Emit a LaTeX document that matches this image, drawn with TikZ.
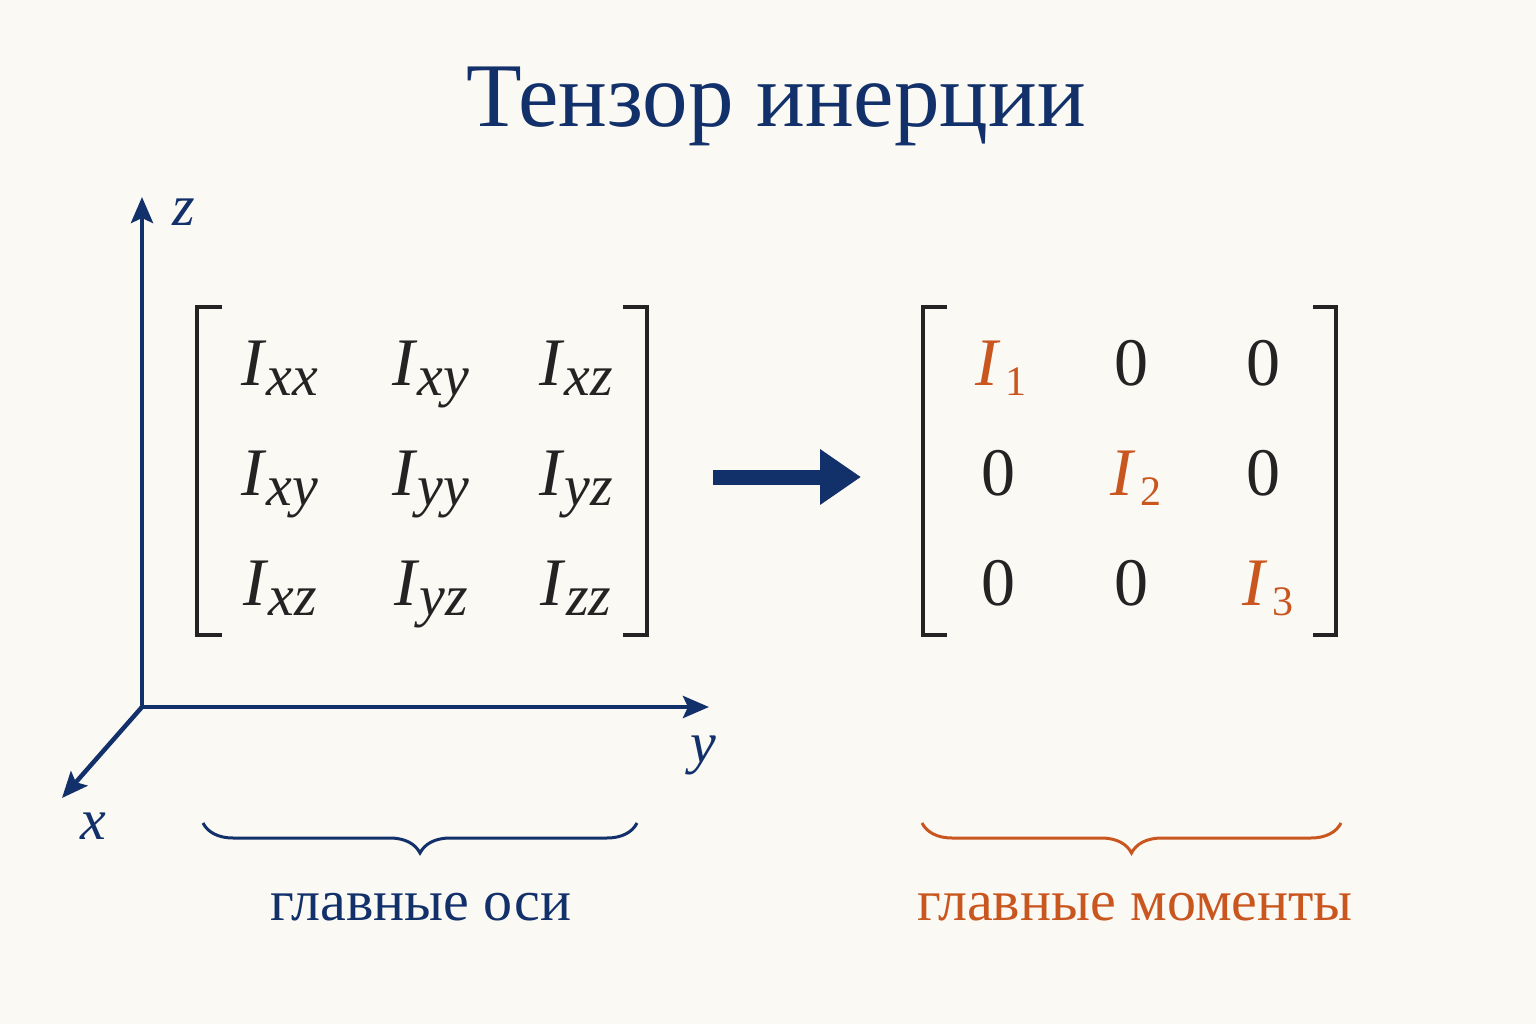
\documentclass[tikz,border=0pt]{standalone}
\usepackage{fontspec}
\setmainfont{Liberation Serif}
\usetikzlibrary{arrows.meta, positioning, decorations.pathreplacing}

\definecolor{navy}{HTML}{12306A}
\definecolor{rust}{HTML}{C9561F}
\definecolor{ink}{HTML}{232323}
\definecolor{paper}{HTML}{FBF9F4}

\newcommand{\Icomp}[1]{\textit{I}\raisebox{-10pt}{\fontsize{58}{58}\selectfont\textit{#1}}}
\newcommand{\Iprin}[1]{\textcolor{rust}{\textit{I}\kern4pt\raisebox{-10pt}{\fontsize{42}{42}\selectfont #1}}}

\begin{document}
\begin{tikzpicture}[x=1pt, y=-1pt,
    entry/.style={anchor=base, text=ink, inner sep=0pt, font=\fontsize{68}{68}\selectfont},
    axis/.style={navy, line width=4.5pt, -{Stealth[length=26pt,width=22pt,inset=5pt]}},
    axlabel/.style={navy, inner sep=0pt, font=\fontsize{58}{58}\selectfont\itshape},
    bracket/.style={ink, line width=4.5pt},
    curly/.style={decorate, decoration={brace, mirror, amplitude=30pt}, line width=3pt},
    caption/.style={anchor=base, inner sep=0pt, font=\fontsize{58}{58}\selectfont}]

  \fill[paper] (0,0) rectangle (1536,1024);
  \useasboundingbox (0,0) rectangle (1536,1024);

  \node[navy, anchor=base, font=\fontsize{91}{91}\selectfont] (title) at (776,127) {Тензор инерции};

  % axes
  \coordinate (O) at (142,707);
  \coordinate (Z) at (142,197);
  \coordinate (Y) at (709,707);
  \coordinate (X) at (62,798);
  \draw[axis] (O) -- (Z);
  \draw[axis] (O) -- (Y);
  \draw[axis] (O) -- (X);
  \node[axlabel] (zl) at (184,212) {z};
  \node[axlabel] (yl) at (703,755) {y};
  \node[axlabel] (xl) at (93,826) {x};

  % left matrix
  \draw[bracket] (222,307) -- (197,307) -- (197,635) -- (222,635);
  \draw[bracket] (623,307) -- (647,307) -- (647,635) -- (623,635);
  \node[entry] (a11) at (280,385) {\Icomp{xx}};
  \node[entry] (a12) at (431,385) {\Icomp{xy}};
  \node[entry] (a13) at (576,385) {\Icomp{xz}};
  \node[entry] (a21) at (280,495) {\Icomp{xy}};
  \node[entry] (a22) at (431,495) {\Icomp{yy}};
  \node[entry] (a23) at (576,495) {\Icomp{yz}};
  \node[entry] (a31) at (280,605) {\Icomp{xz}};
  \node[entry] (a32) at (431,605) {\Icomp{yz}};
  \node[entry] (a33) at (576,605) {\Icomp{zz}};

  % arrow
  \coordinate (aS) at (713,477);
  \coordinate (aE) at (861,477);
  \draw[navy, line width=15pt, -{Triangle[length=41pt,width=53pt]}] (aS) -- (aE);

  % right matrix
  \draw[bracket] (947,307) -- (923,307) -- (923,635) -- (947,635);
  \draw[bracket] (1313,307) -- (1336,307) -- (1336,635) -- (1313,635);
  \node[entry] (b11) at (1001,385) {\Iprin{1}};
  \node[entry] (b12) at (1131,385) {0};
  \node[entry] (b13) at (1263,385) {0};
  \node[entry] (b21) at (998,495) {0};
  \node[entry] (b22) at (1136,495) {\Iprin{2}};
  \node[entry] (b23) at (1263,495) {0};
  \node[entry] (b31) at (998,605) {0};
  \node[entry] (b32) at (1131,605) {0};
  \node[entry] (b33) at (1268,605) {\Iprin{3}};

  % braces
  \coordinate (lb1) at (203,823);
  \coordinate (lb2) at (637,823);
  \coordinate (rb1) at (922,823);
  \coordinate (rb2) at (1341,823);
  \draw[navy, curly] (lb1) -- (lb2);
  \draw[rust, curly] (rb1) -- (rb2);
  \node[caption, navy] (axes) at (421,920) {главные оси};
  \node[caption, rust] (moments) at (1135,920) {главные моменты};

\end{tikzpicture}
\end{document}
